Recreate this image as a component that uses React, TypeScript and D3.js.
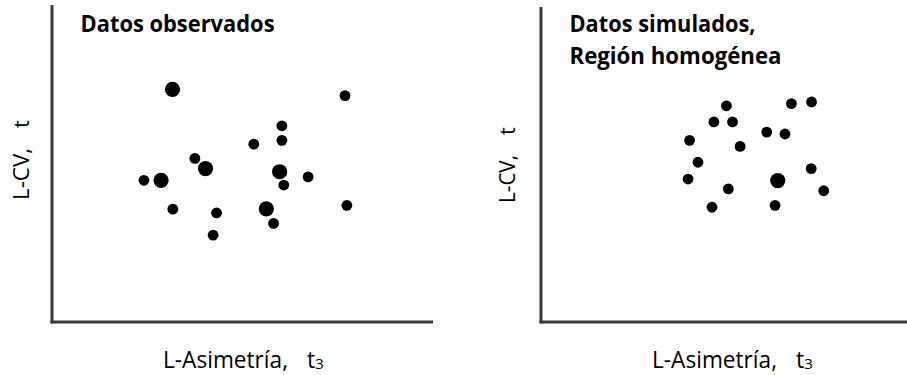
import React, { useEffect } from "react";
import * as d3 from "d3";

// Observed data: L-skewness (t3), L-CV (t), size class
const obsT3 = [0.317, 0.771, 0.605, 0.605, 0.531, 0.376, 0.404, 0.599, 0.674, 0.610, 0.242, 0.287, 0.318, 0.433, 0.564, 0.776, 0.583, 0.424];
const obsT = [0.734, 0.714, 0.619, 0.573, 0.561, 0.516, 0.484, 0.474, 0.458, 0.432, 0.447, 0.447, 0.356, 0.344, 0.357, 0.368, 0.311, 0.274];
const obsBig = [1, 0, 0, 0, 0, 0, 1, 1, 0, 0, 0, 1, 0, 0, 1, 0, 0, 0];

// Simulated data (homogeneous region)
const simT3 = [0.488, 0.659, 0.712, 0.455, 0.504, 0.594, 0.642, 0.391, 0.524, 0.413, 0.711, 0.387, 0.623, 0.493, 0.744, 0.450, 0.616];
const simT = [0.682, 0.689, 0.694, 0.631, 0.631, 0.599, 0.593, 0.573, 0.554, 0.504, 0.484, 0.451, 0.446, 0.420, 0.414, 0.362, 0.368];
const simBig = [0, 0, 0, 0, 0, 0, 0, 0, 0, 0, 0, 0, 1, 0, 0, 0, 0];

const W = 907;
const H = 375;
const FONT = "'Open Sans', 'Noto Sans', sans-serif";
const AXIS = "#3a3a3a";

type PanelProps = {
  ox: number;
  top: number;
  xEnd: number;
  t3: number[];
  t: number[];
  big: number[];
  titles: { text: string; len: number; y: number }[];
  yLab: { x: number; bottom: number; len: number; tY: number };
};

function Panel({ ox, top, xEnd, t3, t, big, titles, yLab }: PanelProps) {
  const x = d3.scaleLinear().domain([0, 1]).range([ox, ox + 380]);
  const y = d3.scaleLinear().domain([0, 1]).range([322, 5]);
  const r = d3.scaleOrdinal<number, number>().domain([0, 1]).range([5.4, 7.6]);
  const baseY = y(0);
  return (
    <g>
      <line x1={ox} x2={ox} y1={top} y2={baseY + 1.5} stroke={AXIS} strokeWidth={3} />
      <line x1={ox - 1.5} x2={xEnd} y1={baseY} y2={baseY} stroke={AXIS} strokeWidth={3} />
      <g filter="url(#soft)">
        {t3.map((v, i) => (
          <circle key={i} cx={x(v)} cy={y(t[i])} r={r(big[i])} fill="#000" />
        ))}
      </g>
      {titles.map((tt, i) => (
        <text key={i} x={ox + 28.5} y={tt.y} fontFamily={FONT} fontWeight={700} fontSize={22.5}
          textLength={tt.len} lengthAdjust="spacingAndGlyphs" fill="#000">{tt.text}</text>
      ))}
      <text transform={`translate(${yLab.x},${yLab.bottom}) rotate(-90)`} fontFamily={FONT} fontSize={22}
        textLength={yLab.len} lengthAdjust="spacingAndGlyphs" fill="#000">L-CV,</text>
      <text transform={`translate(${yLab.x},${yLab.tY}) rotate(-90)`} fontFamily={FONT} fontSize={22} fill="#000">t</text>
      <text x={ox + 111} y={367.5} fontFamily={FONT} fontSize={23} textLength={125}
        lengthAdjust="spacingAndGlyphs" fill="#000">L-Asimetría,</text>
      <text x={ox + 255} y={367.5} fontFamily={FONT} fontSize={23} fill="#000">
        t<tspan fontSize={15} dy={1}>3</tspan>
      </text>
    </g>
  );
}

export default function App() {
  useEffect(() => {
    document.body.style.margin = "0";
  }, []);
  return (
    <svg width={W} height={H} style={{ position: "absolute", left: 0, top: 0, background: "#fff" }}>
      <defs>
        <filter id="soft" x="-20%" y="-20%" width="140%" height="140%">
          <feGaussianBlur stdDeviation={0.55} />
        </filter>
      </defs>
      <rect width={W} height={H} fill="#fff" />
      <Panel ox={52} top={5} xEnd={433} t3={obsT3} t={obsT} big={obsBig}
        titles={[{ text: "Datos observados", len: 194, y: 32.3 }]}
        yLab={{ x: 28.5, bottom: 200, len: 52, tY: 128 }} />
      <Panel ox={541} top={7} xEnd={907} t3={simT3} t={simT} big={simBig}
        titles={[
          { text: "Datos simulados,", len: 186, y: 32.3 },
          { text: "Región homogénea", len: 212, y: 63.5 },
        ]}
        yLab={{ x: 515, bottom: 203, len: 48, tY: 135 }} />
    </svg>
  );
}
